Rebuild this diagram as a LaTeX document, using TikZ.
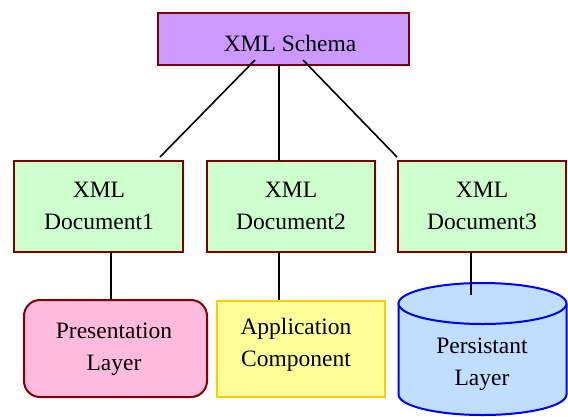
\documentclass[tikz,border=0pt]{standalone}
\usepackage{fontspec}
\setmainfont{LiberationSerif}[Extension=.ttf, UprightFont=*-Regular, BoldFont=*-Bold, ItalicFont=*-Italic]
\begin{document}
\begin{tikzpicture}[x=1pt,y=-1pt,
  lbl/.style={font=\rmfamily\fontsize{23.5}{32}\selectfont, align=center, inner sep=0pt, text=black},
  boxframe/.style={draw=boxred, line width=2pt, inner sep=0pt},
  link/.style={draw=black, line width=1.6pt}]
  \definecolor{boxred}{HTML}{800000}
  \definecolor{schemafill}{HTML}{CC99FF}
  \definecolor{docfill}{HTML}{CCFFCC}
  \definecolor{presfill}{HTML}{FFBBDD}
  \definecolor{appfill}{HTML}{FFFF99}
  \definecolor{appline}{HTML}{FFCC00}
  \definecolor{dbfill}{HTML}{C0DEFF}
  \definecolor{dbline}{HTML}{0000FF}
  \useasboundingbox (0,0) rectangle (568,416);

  % top box
  \node[boxframe, fill=schemafill, minimum width=251pt, minimum height=52pt] (schema) at (283.5,39) {};
  \node[lbl, anchor=base] (schemaT) at (290,51) {XML Schema};

  % document boxes
  \node[boxframe, fill=docfill, minimum width=169pt, minimum height=91pt] (doc1) at (98.5,206.5) {};
  \node[boxframe, fill=docfill, minimum width=168pt, minimum height=91pt] (doc2) at (291,206.5) {};
  \node[boxframe, fill=docfill, minimum width=168pt, minimum height=91pt] (doc3) at (482,206.5) {};
  \node[lbl] (doc1T) at (99,206) {XML\\Document1};
  \node[lbl] (doc2T) at (291,206) {XML\\Document2};
  \node[lbl] (doc3T) at (482,206) {XML\\Document3};

  % layer boxes
  \node[draw=boxred, line width=2pt, fill=presfill, rounded corners=16pt, inner sep=0pt,
        minimum width=183pt, minimum height=97pt] (pres) at (115.5,348.5) {};
  \node[lbl] (presT) at (114,349) {Presentation\\Layer};
  \node[draw=appline, line width=2pt, fill=appfill, inner sep=0pt,
        minimum width=168pt, minimum height=96pt] (app) at (300.5,349) {};
  \node[lbl] (appT) at (296,345) {Application\\Component};

  % storage cylinder
  \coordinate (dbtop) at (482.5,303.5);
  \coordinate (dbbot) at (482.5,394.5);
  \fill[dbfill] (398.5,303.5) -- (398.5,394.5) arc[start angle=180, end angle=360, x radius=84, y radius=-20.5]
    -- (566.5,303.5) arc[start angle=0, end angle=180, x radius=84, y radius=20.5] -- cycle;
  \draw[dbline, line width=2pt] (398.5,303.5) -- (398.5,394.5)
    arc[start angle=180, end angle=360, x radius=84, y radius=-20.5] -- (566.5,303.5);
  \draw[dbline, line width=2pt, fill=dbfill] (dbtop) ellipse[x radius=84, y radius=20.5];
  \node[lbl] (dbT) at (482,364) {Persistant\\Layer};

  % connectors
  \coordinate (sL) at (255,60);
  \coordinate (sM) at (279,65);
  \coordinate (sR) at (303,60);
  \coordinate (eL) at (160,157);
  \coordinate (eM) at (279,161);
  \coordinate (eR) at (397,157);
  \draw[link] (sL) -- (eL);
  \draw[link] (sM) -- (eM);
  \draw[link] (sR) -- (eR);

  \coordinate (d1b) at (111,252);
  \coordinate (p1t) at (111,300);
  \coordinate (d2b) at (279,252);
  \coordinate (a2t) at (279,300);
  \coordinate (d3b) at (471,252);
  \coordinate (c3t) at (471,295);
  \draw[link] (d1b) -- (p1t);
  \draw[link] (d2b) -- (a2t);
  \draw[link] (d3b) -- (c3t);
\end{tikzpicture}
\end{document}
